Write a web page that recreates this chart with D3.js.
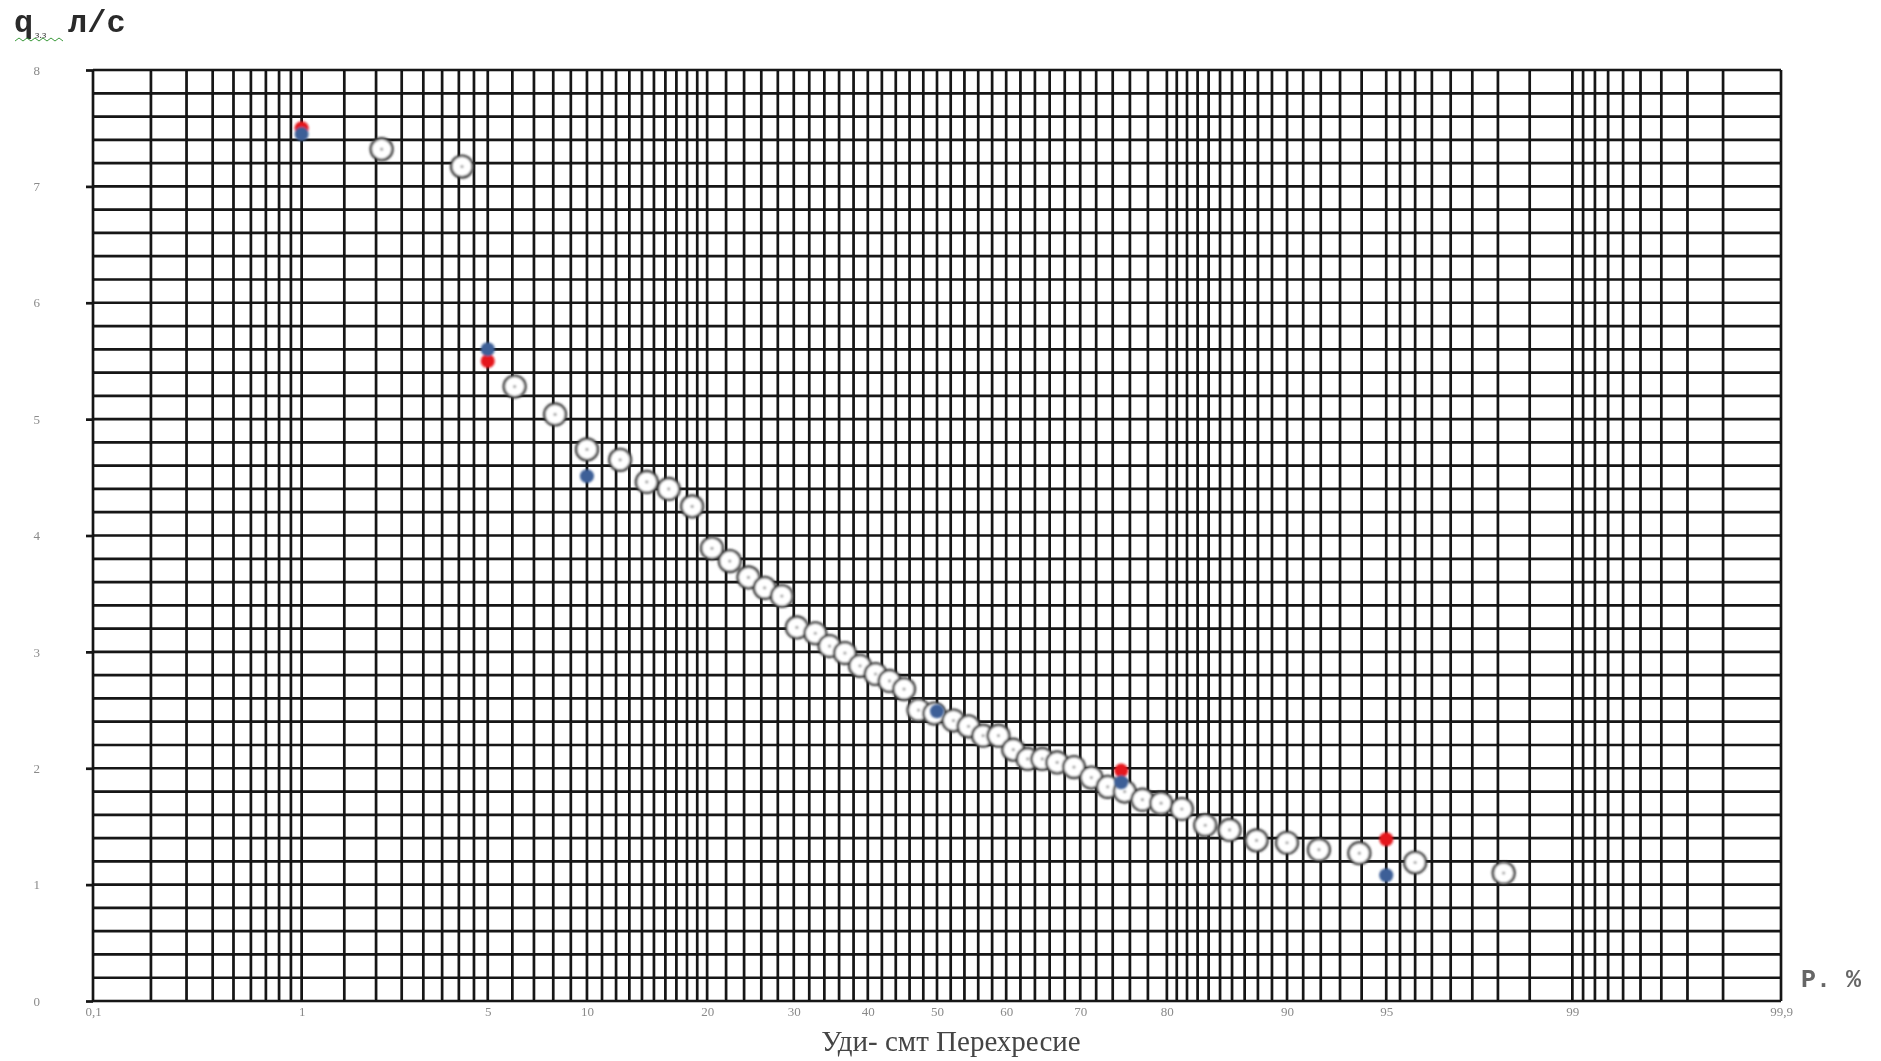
<!DOCTYPE html>
<html>
<head>
<meta charset="utf-8">
<script src="https://cdn.jsdelivr.net/npm/d3@7"></script>
<style>
  html, body { margin: 0; padding: 0; background: #fff; }
  svg { display: block; }
</style>
</head>
<body>
<svg id="chart" width="1881" height="1061"></svg>
<script>
// Observed probabilities of exceedance (%) and discharges q (л/с)
const obsP = [2.1, 4.1, 6.1, 8.1, 10.0, 12.3, 14.4, 16.3, 18.5, 20.5, 22.4, 24.5, 26.4, 28.5,
  30.4, 32.8, 34.7, 36.8, 38.9, 41.1, 43.1, 45.2, 47.3, 49.6, 52.4, 54.6, 56.7, 58.9, 61.0,
  63.0, 65.0, 67.0, 69.2, 71.4, 73.4, 75.4, 77.4, 79.4, 81.5, 83.7, 85.8, 87.9, 90.0, 91.9,
  93.9, 96.0, 98.1];
const obsQ = [7.32, 7.17, 5.28, 5.04, 4.74, 4.65, 4.46, 4.40, 4.25, 3.89, 3.78, 3.64, 3.55, 3.48,
  3.21, 3.16, 3.05, 2.99, 2.88, 2.81, 2.75, 2.68, 2.50, 2.47, 2.41, 2.36, 2.28, 2.28, 2.16,
  2.08, 2.08, 2.05, 2.01, 1.92, 1.84, 1.80, 1.73, 1.70, 1.65, 1.51, 1.47, 1.38, 1.36, 1.30,
  1.27, 1.19, 1.10];

// Quantiles of the fitted curves
const redP = [1, 5, 75, 95];
const redQ = [7.50, 5.50, 1.98, 1.39];
const blueP = [1, 5, 10, 50, 75, 95];
const blueQ = [7.45, 5.60, 4.51, 2.49, 1.88, 1.08];

// Axis tick labels
const pTicks = [0.1, 1, 5, 10, 20, 30, 40, 50, 60, 70, 80, 90, 95, 99, 99.9];
const pTickLabels = ["0,1", "1", "5", "10", "20", "30", "40", "50", "60", "70", "80", "90", "95", "99", "99,9"];
const qTicks = [0, 1, 2, 3, 4, 5, 6, 7, 8];

// Probability-paper rulings: [from, to, step] in %
const pGridBands = [[0.1, 1, 0.1], [1, 5, 0.5], [5, 20, 1], [20, 80, 2], [80, 95, 1], [95, 99, 0.5], [99, 99.9, 0.1]];

// Inverse standard normal CDF (Acklam's rational approximation)
function probit(p) {
  const a = [-3.969683028665376e+01, 2.209460984245205e+02, -2.759285104469687e+02, 1.383577518672690e+02, -3.066479806614716e+01, 2.506628277459239e+00];
  const b = [-5.447609879822406e+01, 1.615858368580409e+02, -1.556989798598866e+02, 6.680131188771972e+01, -1.328068155288572e+01];
  const c = [-7.784894002430293e-03, -3.223964580411365e-01, -2.400758277161838e+00, -2.549732539343734e+00, 4.374664141464968e+00, 2.938163982698783e+00];
  const d = [7.784695709041462e-03, 3.224671290700398e-01, 2.445134137142996e+00, 3.754408661907416e+00];
  const pl = 0.02425, ph = 1 - pl;
  let q, r;
  if (p < pl) {
    q = Math.sqrt(-2 * Math.log(p));
    return (((((c[0]*q + c[1])*q + c[2])*q + c[3])*q + c[4])*q + c[5]) / ((((d[0]*q + d[1])*q + d[2])*q + d[3])*q + 1);
  }
  if (p <= ph) {
    q = p - 0.5; r = q * q;
    return (((((a[0]*r + a[1])*r + a[2])*r + a[3])*r + a[4])*r + a[5])*q / (((((b[0]*r + b[1])*r + b[2])*r + b[3])*r + b[4])*r + 1);
  }
  q = Math.sqrt(-2 * Math.log(1 - p));
  return -(((((c[0]*q + c[1])*q + c[2])*q + c[3])*q + c[4])*q + c[5]) / ((((d[0]*q + d[1])*q + d[2])*q + d[3])*q + 1);
}
const zOf = p => probit(p / 100);

const W = 1881, H = 1061;
const margin = { left: 93, right: 100, top: 70, bottom: 60 };

const svg = d3.select("#chart");
const defs = svg.append("defs");
defs.append("filter").attr("id", "soft").attr("x", "-5%").attr("y", "-5%").attr("width", "110%").attr("height", "110%")
  .append("feGaussianBlur").attr("stdDeviation", 0.75);
defs.append("filter").attr("id", "softer").attr("x", "-20%").attr("y", "-20%").attr("width", "140%").attr("height", "140%")
  .append("feGaussianBlur").attr("stdDeviation", 0.9);

const x = d3.scaleLinear()
  .domain([zOf(0.1), zOf(99.9)])
  .range([margin.left, W - margin.right]);
const y = d3.scaleLinear()
  .domain([0, 8])
  .range([H - margin.bottom, margin.top]);
const px = p => x(zOf(p));

// Vertical rulings
const gridP = [];
pGridBands.forEach(([a, b, s]) => {
  d3.range(a, b + s / 2, s).forEach(v => gridP.push(+v.toFixed(2)));
});
const gridPUnique = Array.from(new Set(gridP));

const gridColor = "#121212", gridWidth = 2.7;
const grid = svg.append("g").attr("filter", "url(#soft)");
grid.selectAll("line.v").data(gridPUnique).join("line")
  .attr("class", "v")
  .attr("x1", d => px(d)).attr("x2", d => px(d))
  .attr("y1", y(0)).attr("y2", y(8))
  .attr("stroke", gridColor).attr("stroke-width", gridWidth);

// Horizontal rulings every 0.2
const gridQ = d3.range(0, 41).map(i => i / 5);
grid.selectAll("line.h").data(gridQ).join("line")
  .attr("class", "h")
  .attr("x1", x.range()[0]).attr("x2", x.range()[1])
  .attr("y1", d => y(d)).attr("y2", d => y(d))
  .attr("stroke", gridColor).attr("stroke-width", gridWidth);

// Y axis
const yAxis = svg.append("g")
  .attr("transform", `translate(${margin.left},0)`)
  .attr("filter", "url(#soft)")
  .call(d3.axisLeft(y).tickValues(qTicks).tickSize(7).tickPadding(46).tickFormat(d3.format("d")));
yAxis.select(".domain").remove();
yAxis.selectAll(".tick line").attr("stroke", gridColor).attr("stroke-width", gridWidth);
yAxis.selectAll(".tick text")
  .attr("fill", "#8a8a8a")
  .style("font-family", "'Liberation Serif', serif")
  .style("font-size", "13px");

// X axis (positions on the normal-probability scale)
const xAxis = svg.append("g")
  .attr("transform", `translate(0,${H - margin.bottom})`)
  .attr("filter", "url(#soft)")
  .call(d3.axisBottom(x).tickValues(pTicks.map(zOf)).tickSize(0).tickPadding(6)
    .tickFormat((d, i) => pTickLabels[i]));
xAxis.select(".domain").remove();
xAxis.selectAll(".tick text")
  .attr("fill", "#8a8a8a")
  .style("font-family", "'Liberation Serif', serif")
  .style("font-size", "13px");

// Observed points: open rings with a centre dot
const obs = obsP.map((p, i) => ({ p, q: obsQ[i] }));
const obsG = svg.append("g").attr("filter", "url(#softer)");
const ring = obsG.selectAll("g.obs").data(obs).join("g")
  .attr("class", "obs")
  .attr("transform", d => `translate(${px(d.p)},${y(d.q)})`);
ring.append("circle").attr("r", 10.8)
  .attr("fill", "#ffffff").attr("stroke", "#3a3a3a").attr("stroke-width", 2.6);
ring.append("circle").attr("r", 1.6).attr("fill", "#9a9a9a");

// Fitted-curve quantiles
const dotG = svg.append("g").attr("filter", "url(#softer)");
dotG.selectAll("circle.red").data(redP.map((p, i) => ({ p, q: redQ[i] }))).join("circle")
  .attr("class", "red")
  .attr("cx", d => px(d.p)).attr("cy", d => y(d.q)).attr("r", 7)
  .attr("fill", "#e5141c");
dotG.selectAll("circle.blue").data(blueP.map((p, i) => ({ p, q: blueQ[i] }))).join("circle")
  .attr("class", "blue")
  .attr("cx", d => px(d.p)).attr("cy", d => y(d.q)).attr("r", 7)
  .attr("fill", "#3c5f97");

// Axis titles
const titles = svg.append("g").attr("filter", "url(#soft)");
titles.append("text")
  .attr("x", 14).attr("y", 32)
  .style("font-family", "'Liberation Mono', monospace")
  .style("font-size", "32px").style("font-weight", "bold")
  .attr("fill", "#2a2a2a")
  .text("q");
titles.append("text")
  .attr("x", 35).attr("y", 38)
  .style("font-family", "'Liberation Serif', serif")
  .style("font-size", "11px")
  .attr("fill", "#444")
  .text("з.з");
titles.append("path")
  .attr("d", d3.range(0, 13).map((i) => `${i === 0 ? "M" : "L"}${15 + i * 4},${i % 2 ? 38 : 41}`).join(""))
  .attr("fill", "none").attr("stroke", "#3c9a3c").attr("stroke-width", 1);
titles.append("text")
  .attr("x", 68).attr("y", 32)
  .style("font-family", "'Liberation Mono', monospace")
  .style("font-size", "32px").style("font-weight", "bold")
  .attr("fill", "#2a2a2a")
  .text("л/с");

titles.append("text")
  .attr("x", 1801).attr("y", 987)
  .style("font-family", "'Liberation Mono', monospace")
  .style("font-size", "25px").style("font-weight", "bold")
  .attr("fill", "#666")
  .text("P. %");

titles.append("text")
  .attr("x", 951).attr("y", 1051)
  .attr("text-anchor", "middle")
  .style("font-family", "'Liberation Serif', serif")
  .style("font-size", "29px")
  .attr("fill", "#444")
  .text("Уди- смт Перехресие");
</script>
</body>
</html>
